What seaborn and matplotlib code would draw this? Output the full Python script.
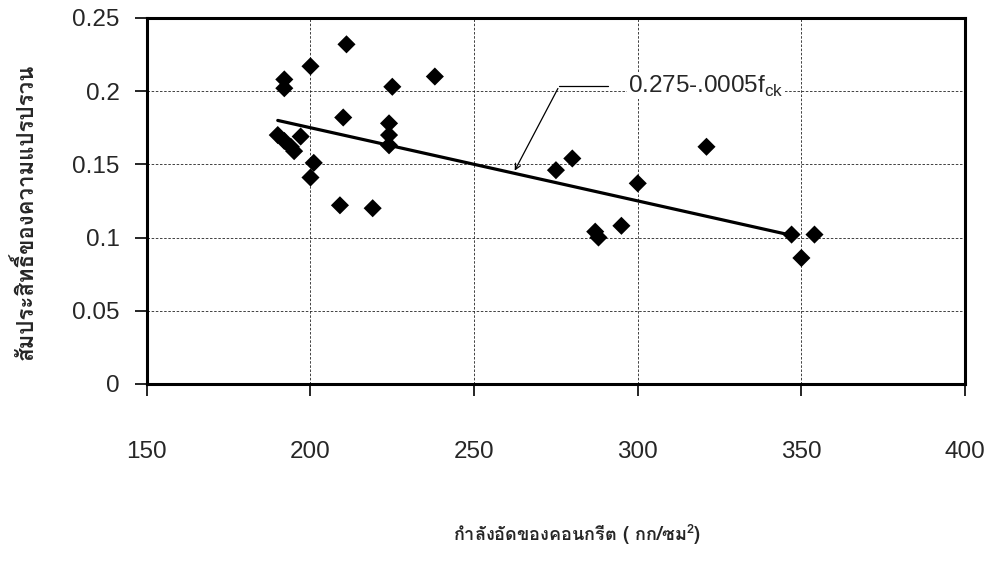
import matplotlib
matplotlib.use("Agg")
import matplotlib.pyplot as plt
from matplotlib import font_manager
from matplotlib.ft2font import FT2Font
import seaborn as sns
import pandas as pd
import numpy as np

# data: concrete strength (ksc) vs coefficient of variation
strength = [211, 200, 192, 192, 238, 225, 210, 224, 224, 224,
            190, 192, 194, 195, 197, 201, 200, 209, 219,
            280, 275, 321, 300, 287, 288, 295, 347, 354, 350]
cov = [0.232, 0.217, 0.208, 0.202, 0.210, 0.203, 0.182, 0.178, 0.170, 0.163,
       0.170, 0.166, 0.162, 0.159, 0.169, 0.151, 0.141, 0.122, 0.120,
       0.154, 0.146, 0.162, 0.137, 0.104, 0.100, 0.108, 0.102, 0.102, 0.086]

# fitted line printed on the chart: 0.275 - 0.0005 f_ck
fit_a, fit_b = 0.275, -0.0005
fit_range = [190, 348]

x_ticks = [150, 200, 250, 300, 350, 400]
y_ticks = [0, 0.05, 0.1, 0.15, 0.2, 0.25]
y_tick_labels = ["0", "0.05", "0.1", "0.15", "0.2", "0.25"]

y_label = "สัมประสิทธิ์ของความแปรปรวน"
x_label = "กำลังอัดของคอนกรีต ( กก/ซม$^{\\mathregular{2}}$)"


def find_thai_font():
    # pick an installed font that actually has Thai glyphs, bold first
    found = None
    for f in font_manager.fontManager.ttflist:
        try:
            cmap = FT2Font(f.fname).get_charmap()
        except Exception:
            continue
        if 0x0E01 in cmap and 0x0E2A in cmap:
            if f.weight in ("bold", 700) or "Bold" in f.fname:
                return f.name
            found = found or f.name
    return found


df = pd.DataFrame({"fck": strength, "cov": cov})
fit_x = np.array(fit_range)
fit_df = pd.DataFrame({"fck": fit_x, "cov": fit_a + fit_b * fit_x})

sns.set_style("ticks")
thai = find_thai_font()
plt.rcParams["font.family"] = ["Liberation Sans", "DejaVu Sans"]
plt.rcParams["mathtext.fontset"] = "custom"
plt.rcParams["mathtext.rm"] = "Liberation Sans"
thai_family = [thai, "DejaVu Sans"] if thai else ["DejaVu Sans"]

fig = plt.figure(figsize=(9.99, 5.62), dpi=100)
ax = fig.add_axes([0.147, 0.317, 0.819, 0.651])

ax.grid(True, color="#222222", linestyle=(0, (3, 2)), linewidth=0.6)
ax.set_axisbelow(True)

sns.scatterplot(data=df, x="fck", y="cov", marker="D", s=85, color="black",
                edgecolor="none", ax=ax, zorder=3, legend=False)
sns.lineplot(data=fit_df, x="fck", y="cov", color="black", linewidth=2.3,
             ax=ax, zorder=2)

ax.set_xlim(150, 400)
ax.set_ylim(0, 0.25)
ax.set_xticks(x_ticks)
ax.set_yticks(y_ticks)
ax.set_yticklabels(y_tick_labels)
ax.tick_params(axis="both", labelsize=17.5, length=8.5, width=1.2, color="black")
ax.tick_params(axis="x", pad=33)
ax.tick_params(axis="y", pad=11)
for sp in ax.spines.values():
    sp.set_visible(True)
    sp.set_linewidth(2.2)
    sp.set_color("black")
ax.set_xlabel("")
ax.set_ylabel("")

ax.annotate("", xy=(262, 0.144), xytext=(276, 0.2035),
            arrowprops=dict(arrowstyle="->", color="black", lw=0.9))
ax.plot([276, 291], [0.2035, 0.2035], color="black", lw=0.9)
ax.text(297, 0.2035, "0.275-.0005f$_{\\mathregular{ck}}$", fontsize=17.5,
        va="center", ha="left",
        bbox=dict(facecolor="white", edgecolor="none", pad=0.5))

fig.text(0.024, 0.623, y_label, rotation=90, ha="center", va="center",
         fontsize=16, fontweight="bold", family=thai_family)
fig.text(0.578, 0.048, x_label, ha="center", va="center",
         fontsize=13, fontweight="bold", family=thai_family)

fig.savefig("out.png", dpi=100)
